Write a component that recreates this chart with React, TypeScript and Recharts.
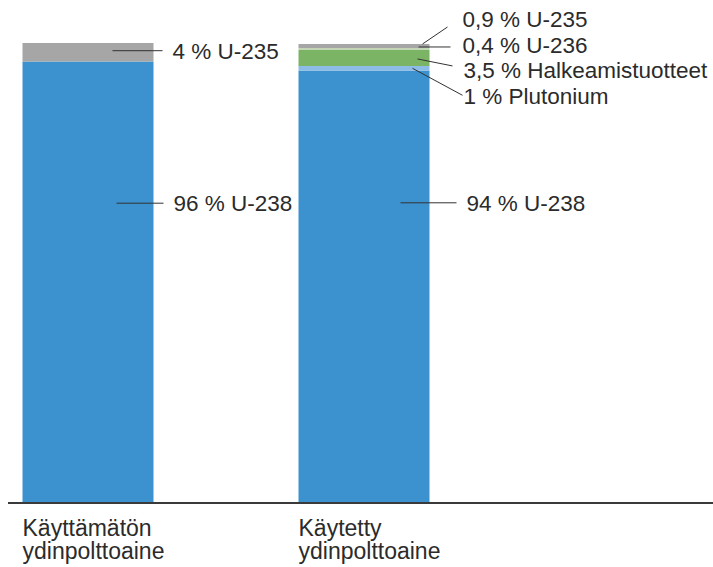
import React from 'react';
import { BarChart, Bar, XAxis, YAxis, LabelList } from 'recharts';

const categories = ['Käyttämätön ydinpolttoaine', 'Käytetty ydinpolttoaine'];
const u238 = [96, 94];
const plutonium = [0, 1];
const fission = [0, 3.5];
const u236 = [0, 0.4];
const u235 = [4, 0.9];

const seriesNames = {
  u238: 'U-238',
  pu: 'Plutonium',
  fission: 'Halkeamistuotteet',
  u236: 'U-236',
  u235: 'U-235',
};

const seriesValues: Record<string, number[]> = { u238, pu: plutonium, fission, u236, u235 };

const data = categories.map((name, i) => ({
  name,
  u238: u238[i],
  pu: plutonium[i],
  fission: fission[i],
  u236: u236[i],
  u235: u235[i],
}));

const TEXT = '#2b2b2b';
const FONT = '"Liberation Sans", Arial, sans-serif';

type Leader = { x1: number; y1: number; x2: number; y2: number; tx: number; ty: number };

// leader line + label placement: x from bar left, y from segment middle
const leaders: Record<string, (Leader | null)[]> = {
  u238: [
    { x1: 94, y1: -79, x2: 141, y2: -79, tx: 151, ty: -79 },
    { x1: 102, y1: -84, x2: 158, y2: -84, tx: 168, ty: -84 },
  ],
  pu: [null, { x1: 114, y1: 0, x2: 164, y2: 27, tx: 165, ty: 28 }],
  fission: [null, { x1: 119, y1: 1, x2: 154, y2: 8, tx: 165, ty: 12 }],
  u236: [null, { x1: 120, y1: -2, x2: 152, y2: -2, tx: 164, ty: -4 }],
  u235: [
    { x1: 90, y1: -1.5, x2: 140, y2: -1.5, tx: 150, ty: -1 },
    { x1: 124, y1: -2, x2: 149, y2: -19, tx: 164, ty: -27 },
  ],
};

const fmt = (v: number) => String(v).replace('.', ',');

const makeLabel = (key: keyof typeof seriesNames) => (props: any) => {
  const vb = props.viewBox ?? props;
  const { x, y, height } = vb;
  if (!props.value) return null;
  // zero-height bars may be dropped, so find the category from the value
  const idx = seriesValues[key].indexOf(Number(props.value));
  const l = leaders[key][idx];
  if (!l) return null;
  const mid = y + height / 2;
  return (
    <g>
      <line x1={x + l.x1} y1={mid + l.y1} x2={x + l.x2} y2={mid + l.y2} stroke="#333" strokeWidth={1} />
      <text x={x + l.tx} y={mid + l.ty + 7.8} fill={TEXT} fontSize={22.5} fontFamily={FONT}>
        {`${fmt(props.value)} % ${seriesNames[key]}`}
      </text>
    </g>
  );
};

const CategoryTick = (props: any) => {
  const { x, y, payload } = props;
  const [l1, l2] = String(payload.value).split(' ');
  return (
    <text x={x - 65} y={y} fill={TEXT} fontSize={23} fontFamily={FONT}>
      <tspan x={x - 65} dy={32.5}>{l1}</tspan>
      <tspan x={x - 65} dy={23.5}>{l2}</tspan>
    </text>
  );
};

const App: React.FC = () => {
  return (
    <div style={{ width: 713, height: 567, background: '#fff' }}>
      <style>{'html, body { margin: 0; padding: 0; overflow: hidden; }'}</style>
      <BarChart
        width={713}
        height={567}
        data={data}
        margin={{ top: 43, right: 0, bottom: 0, left: 8 }}
      >
        <XAxis
          dataKey="name"
          height={64}
          padding={{ left: -58.5, right: 211.5 }}
          axisLine={{ stroke: '#3a3a3a', strokeWidth: 2 }}
          tickLine={false}
          tickSize={0}
          tickMargin={0}
          tick={<CategoryTick />}
          interval={0}
        />
        <YAxis hide domain={[0, 100]} />
        <Bar dataKey="u238" stackId="a" fill="#3c91cf" barSize={131} isAnimationActive={false}>
          <LabelList dataKey="u238" content={makeLabel('u238')} />
        </Bar>
        <Bar dataKey="pu" stackId="a" fill="#8dbce6" barSize={131} isAnimationActive={false}>
          <LabelList dataKey="pu" content={makeLabel('pu')} />
        </Bar>
        <Bar dataKey="fission" stackId="a" fill="#7ab464" barSize={131} isAnimationActive={false}>
          <LabelList dataKey="fission" content={makeLabel('fission')} />
        </Bar>
        <Bar dataKey="u236" stackId="a" fill="#c3d6b5" barSize={131} isAnimationActive={false}>
          <LabelList dataKey="u236" content={makeLabel('u236')} />
        </Bar>
        <Bar dataKey="u235" stackId="a" fill="#a6a6a6" barSize={131} isAnimationActive={false}>
          <LabelList dataKey="u235" content={makeLabel('u235')} />
        </Bar>
      </BarChart>
    </div>
  );
};

export default App;
